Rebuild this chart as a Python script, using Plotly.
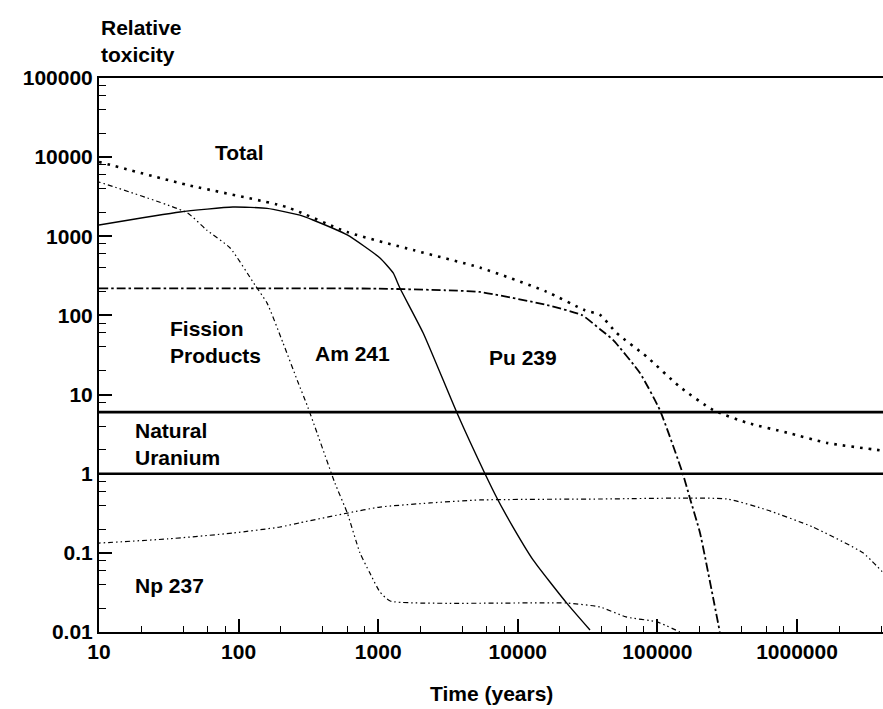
import math
import plotly.graph_objects as go

# ---- data ----
total_x = [10, 43, 220, 600, 1780, 5400, 16000, 30000, 39000, 51000, 84000, 145000, 250000, 440000, 850000, 1640000, 3740000, 4130000]
total_y = [8700, 4450, 2340, 1130, 670, 400, 200, 117, 101, 60, 30, 12.5, 6.4, 4.4, 3.3, 2.45, 2.0, 1.95]

fission_x = [10, 43, 59, 87, 131, 160, 208, 266, 309, 365, 490, 600, 740, 870, 1030, 1220, 22500, 38800, 59600, 99300, 145000]
fission_y = [4850, 1970, 1200, 711, 242, 143, 45, 14.4, 7.4, 3.27, 0.76, 0.32, 0.10, 0.056, 0.032, 0.0246, 0.0232, 0.0207, 0.0155, 0.0134, 0.01]

am241_x = [10, 38, 91, 160, 275, 341, 600, 1030, 1280, 1430, 2100, 3670, 5820, 7210, 9240, 12900, 22500, 32900]
am241_y = [1390, 2030, 2340, 2250, 1850, 1607, 1040, 532, 344, 222, 60, 5.85, 1.0, 0.466, 0.212, 0.081, 0.023, 0.0106]

pu239_x = [10, 1000, 3000, 5360, 16200, 28800, 38800, 48100, 75000, 104000, 152000, 171000, 202000, 250000, 280000]
pu239_y = [220, 218, 208, 198, 135, 101, 67, 49, 18.7, 6.4, 1.0, 0.49, 0.178, 0.0277, 0.01]

np237_x = [10, 31, 91, 198, 275, 600, 1030, 2350, 5360, 38800, 315000, 610000, 1300000, 2970000, 4070000]
np237_y = [0.133, 0.15, 0.178, 0.212, 0.24, 0.318, 0.379, 0.427, 0.466, 0.479, 0.479, 0.348, 0.212, 0.1, 0.058]

natural_uranium_levels = [6, 1]

x_tickvals = [10, 100, 1000, 10000, 100000, 1000000]
x_ticktext = ["10", "100", "1000", "10000", "100000", "1000000"]
y_tickvals = [0.01, 0.1, 1, 10, 100, 1000, 10000, 100000]
y_ticktext = ["0.01", "0.1", "1", "10", "100", "1000", "10000", "100000"]

FONT = "Liberation Sans, Arial, sans-serif"
TICKFONT = dict(family=FONT, size=21, color="black", weight="bold")
LABELFONT = dict(family=FONT, size=21, color="black", weight="bold")

fig = go.Figure()

fig.add_trace(go.Scatter(x=total_x, y=total_y, mode="lines", name="Total",
                         line=dict(color="black", width=2.6, dash="2.6px,6px", shape="spline", smoothing=0.6)))
fig.add_trace(go.Scatter(x=fission_x, y=fission_y, mode="lines", name="Fission Products",
                         line=dict(color="black", width=1.2, dash="1.5px,3px,1.5px,3px,5px,3px", shape="spline", smoothing=0.5)))
fig.add_trace(go.Scatter(x=am241_x, y=am241_y, mode="lines", name="Am 241",
                         line=dict(color="black", width=1.4, shape="spline", smoothing=0.5)))
fig.add_trace(go.Scatter(x=pu239_x, y=pu239_y, mode="lines", name="Pu 239",
                         line=dict(color="black", width=1.8, dash="9px,3px,2.5px,3px", shape="spline", smoothing=0.5)))
fig.add_trace(go.Scatter(x=np237_x, y=np237_y, mode="lines", name="Np 237",
                         line=dict(color="black", width=1.2, dash="1.5px,3px,1.5px,3px,5px,3px", shape="spline", smoothing=0.5)))

for lvl in natural_uranium_levels:
    fig.add_hline(y=lvl, line=dict(color="black", width=2.6))

x_minor = [m * 10 ** k for k in range(1, 7) for m in (2, 4, 6, 8) if m * 10 ** k < 4.1e6]
y_minor = [m * 10.0 ** k for k in range(-2, 5) for m in (2, 4, 6, 8)]

fig.update_xaxes(type="log", range=[1, 6.616], tickmode="array", tickvals=x_tickvals, ticktext=x_ticktext,
                 ticks="inside", ticklen=13, tickwidth=1.5, tickcolor="black",
                 showline=True, linecolor="black", linewidth=2, mirror=True, showgrid=False, zeroline=False,
                 tickfont=TICKFONT,
                 minor=dict(tickmode="array", tickvals=x_minor, ticks="inside", ticklen=6, tickwidth=1.2, tickcolor="black", showgrid=False))
fig.update_yaxes(type="log", range=[-2, 5], tickmode="array", tickvals=y_tickvals, ticktext=y_ticktext,
                 ticks="inside", ticklen=13, tickwidth=1.5, tickcolor="black",
                 showline=True, linecolor="black", linewidth=2, mirror=False, showgrid=False, zeroline=False,
                 tickfont=TICKFONT,
                 minor=dict(tickmode="array", tickvals=y_minor, ticks="inside", ticklen=7, tickwidth=1.2, tickcolor="black", showgrid=False))

labels = [
    ("Total", 65.6, 11600),
    ("Fission<br>Products", 31.2, 45.5),
    ("Natural<br>Uranium", 17.5, 2.37),
    ("Np 237", 17.5, 0.0392),
    ("Am 241", 341, 33.5),
    ("Pu 239", 6010, 29),
]
for text, lx, ly in labels:
    fig.add_annotation(x=math.log10(lx), y=math.log10(ly), xref="x", yref="y", text=text, showarrow=False,
                       xanchor="left", yanchor="middle", align="left", font=LABELFONT)

fig.add_annotation(x=0, y=(632 - 41) / 554, xref="paper", yref="paper", text="Relative<br>toxicity",
                   showarrow=False, xanchor="left", yanchor="middle", align="left", font=LABELFONT)
fig.add_annotation(x=0.5, y=(632 - 693) / 554, xref="paper", yref="paper", text="Time (years)",
                   showarrow=False, xanchor="center", yanchor="middle", font=LABELFONT)

fig.update_layout(width=883, height=709, margin=dict(l=99, r=0, t=78, b=77),
                  paper_bgcolor="white", plot_bgcolor="white", showlegend=False)

fig.write_html("out.html", config={"displayModeBar": False},
               post_script="document.body.style.margin='0';document.body.style.overflow='hidden';")
